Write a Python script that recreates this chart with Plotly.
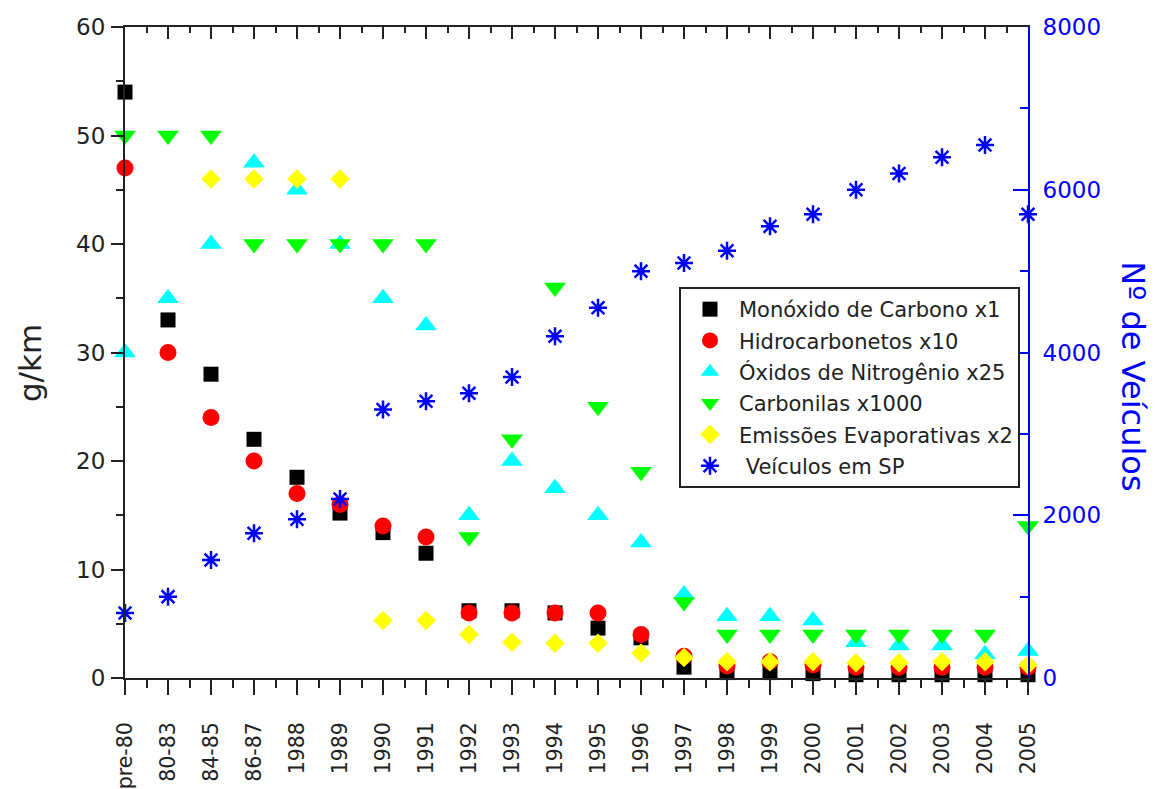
import plotly.graph_objects as go

# Vehicle emission factors in São Paulo by model year, and fleet size
CATEGORIES = ["pre-80", "80-83", "84-85", "86-87", "1988", "1989", "1990", "1991",
              "1992", "1993", "1994", "1995", "1996", "1997", "1998", "1999",
              "2000", "2001", "2002", "2003", "2004", "2005"]

CO_X1 = [54.0, 33.0, 28.0, 22.0, 18.5, 15.2, 13.4, 11.5, 6.2, 6.2, 6.0, 4.6,
         3.7, 1.0, 0.5, 0.5, 0.4, 0.3, 0.3, 0.3, 0.3, 0.3]
HC_X10 = [47.0, 30.0, 24.0, 20.0, 17.0, 16.0, 14.0, 13.0, 6.0, 6.0, 6.0, 6.0,
          4.0, 2.0, 1.1, 1.5, 1.2, 1.0, 1.0, 1.0, 1.0, 1.0]
NOX_X25 = [30.0, 35.0, 40.0, 47.5, 45.0, 40.0, 35.0, 32.5, 15.0, 20.0, 17.5, 15.0,
           12.5, 7.7, 5.7, 5.7, 5.3, 3.3, 3.0, 3.0, 2.2, 2.5]
CARBONYL_X1000 = [50.0, 50.0, 50.0, 40.0, 40.0, 40.0, 40.0, 40.0, 13.0, 22.0, 36.0, 25.0,
                  19.0, 7.0, 4.0, 4.0, 4.0, 4.0, 4.0, 4.0, 4.0, 14.0]
EVAP_X2 = [None, None, 46.0, 46.0, 46.0, 46.0, 5.3, 5.3, 4.0, 3.3, 3.2, 3.2,
           2.3, 1.9, 1.5, 1.5, 1.5, 1.4, 1.4, 1.5, 1.5, 1.2]
VEHICLES_SP = [800, 1000, 1450, 1780, 1950, 2200, 3300, 3400, 3500, 3700, 4200, 4550,
               5000, 5100, 5250, 5550, 5700, 6000, 6200, 6400, 6550, 5700]

FONT = "DejaVu Sans"
INK = "#222222"
BLUE = "#0000ff"
pos = list(range(len(CATEGORIES)))
half_pos = [p + 0.5 for p in pos[:-1]]

fig = go.Figure()

series = [
    ("Monóxido de Carbono x1", CO_X1, "square", 15, "#000000"),
    ("Hidrocarbonetos x10", HC_X10, "circle", 17, "#ff0000"),
    ("Óxidos de Nitrogênio x25", NOX_X25, "triangle-up", 19, "#00ffff"),
    ("Carbonilas x1000", CARBONYL_X1000, "triangle-down", 19, "#00ff00"),
    ("Emissões Evaporativas x2", EVAP_X2, "diamond", 15, "#ffff00"),
]
for i, (name, vals, sym, size, color) in enumerate(series):
    fig.add_trace(go.Scatter(
        x=pos, y=vals, mode="markers", name=name, legendgroup=f"g{i}",
        cliponaxis=False,
        marker=dict(symbol=sym, size=size, color=color, line=dict(width=0)),
    ))

fig.add_trace(go.Scatter(
    x=pos, y=VEHICLES_SP, mode="markers", name=" Veículos em SP", legendgroup="gv",
    yaxis="y2", cliponaxis=False,
    marker=dict(symbol="asterisk-open", size=15, color=BLUE,
                line=dict(width=2.5, color=BLUE)),
))

# empty trace so the mirrored top axis frame is drawn
fig.add_trace(go.Scatter(x=[], y=[], xaxis="x2", showlegend=False, hoverinfo="skip"))

fig.update_layout(
    width=1155, height=789,
    margin=dict(l=125, r=127, t=27, b=111),
    paper_bgcolor="white", plot_bgcolor="white",
    font=dict(family=FONT, color=INK),
    showlegend=True,
    legend=dict(
        x=0.6135, y=0.6006, xanchor="left", yanchor="top",
        bgcolor="white", bordercolor=INK, borderwidth=2,
        font=dict(family=FONT, size=21, color=INK),
        itemwidth=48, tracegroupgap=1,
    ),
    xaxis=dict(
        range=[0, 21], tickmode="array", tickvals=pos, ticktext=CATEGORIES,
        tickangle=-90, ticks="outside", ticklen=15, tickwidth=2, tickcolor=INK,
        ticklabelstandoff=19, automargin=False,
        tickfont=dict(family=FONT, size=20.5, color=INK),
        minor=dict(tickmode="array", tickvals=half_pos, ticks="outside",
                   ticklen=8, tickwidth=1.5, tickcolor=INK),
        showline=True, linecolor=INK, linewidth=2,
        showgrid=False, zeroline=False,
    ),
    xaxis2=dict(
        range=[0, 21], overlaying="x", side="top", anchor="y",
        tickmode="array", tickvals=pos, showticklabels=False, automargin=False,
        ticks="inside", ticklen=12, tickwidth=2, tickcolor=INK,
        minor=dict(tickmode="array", tickvals=half_pos, ticks="inside",
                   ticklen=6, tickwidth=1.5, tickcolor=INK),
        showline=True, linecolor=INK, linewidth=2,
        showgrid=False, zeroline=False,
    ),
    yaxis=dict(
        range=[0, 60], dtick=10, ticks="outside", ticklen=12, tickwidth=2,
        tickcolor=INK, ticklabelstandoff=1, automargin=False,
        tickfont=dict(family=FONT, size=23, color=INK),
        minor=dict(dtick=5, ticks="outside", ticklen=7, tickwidth=1.5, tickcolor=INK),
        showline=True, linecolor=INK, linewidth=2,
        showgrid=False, zeroline=False,
    ),
    yaxis2=dict(
        range=[0, 8000], dtick=2000, overlaying="y", side="right", anchor="x",
        ticks="inside", ticklen=15, tickwidth=2, tickcolor=BLUE,
        ticklabelstandoff=8, automargin=False,
        tickfont=dict(family=FONT, size=23, color=BLUE),
        minor=dict(dtick=1000, ticks="inside", ticklen=8, tickwidth=1.5, tickcolor=BLUE),
        showline=True, linecolor=BLUE, linewidth=2,
        showgrid=False, zeroline=False,
    ),
    annotations=[
        dict(text="g/km", xref="paper", yref="paper", x=-0.105, y=0.484,
             xanchor="center", yanchor="middle", textangle=-90, showarrow=False,
             font=dict(family=FONT, size=31, color=INK)),
        dict(text="Nº de Veículos", xref="paper", yref="paper", x=1.116, y=0.464,
             xanchor="center", yanchor="middle", textangle=90, showarrow=False,
             font=dict(family=FONT, size=32, color=BLUE)),
    ],
)

fig.write_html("out.html")
